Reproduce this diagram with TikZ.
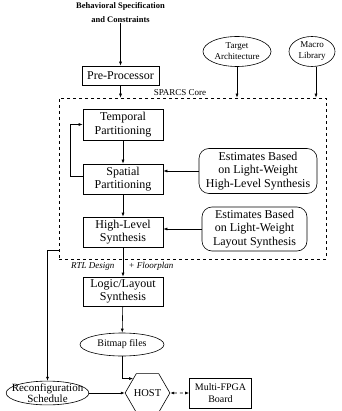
\documentclass[tikz,border=0pt]{standalone}
\usepackage{fontspec}
\setmainfont{Liberation Serif}
\usetikzlibrary{positioning, arrows.meta, shapes.geometric}

\begin{document}
\begin{tikzpicture}[x=1pt, y=-1pt, line width=0.6pt,
    every node/.style={font=\fontsize{12}{13.3}\selectfont, align=center},
    stagebox/.style={draw, minimum width=80pt, minimum height=30pt, inner sep=1pt},
    estbox/.style={draw, rounded corners=10pt, inner sep=1pt},
    oval/.style={draw, ellipse, inner sep=0pt},
    smalltext/.style={font=\fontsize{9}{11}\selectfont},
    arr/.style={-{Latex[length=4pt, width=3pt]}}]
        \useasboundingbox (0,0) rectangle (341,411);
        % Input
        \node[font=\fontsize{8.5}{14}\selectfont\bfseries, inner sep=0pt] (spec)
              at (120.5,13) {Behavioral Specification\\and Constraints};
        \node[stagebox, minimum width=77pt, minimum height=19pt] (pre)
              at (120.5,75.5) {Pre-Processor};
        % Libraries
        \node[oval, smalltext, minimum width=68pt, minimum height=30pt] (target)
              at (237,51.5) {Target\\Architecture};
        \node[oval, smalltext, minimum width=46pt, minimum height=30pt] (macro)
              at (312,51.5) {Macro\\Library};
        % Core
        \node[draw, dashed, minimum width=267pt, minimum height=161pt] (core)
              at (192.5,178.5) {};
        \node[smalltext, anchor=south, inner sep=1pt] (corename)
              at (180,97) {SPARCS Core};
        \node[stagebox, minimum height=31pt] (temporal)
              at (123,124.5) {Temporal\\Partitioning};
        \node[stagebox] (spatial)
              at (123,179) {Spatial\\Partitioning};
        \node[stagebox] (hls)
              at (123,232) {High-Level\\Synthesis};
        \node[estbox, minimum width=118pt, minimum height=45pt] (est1)
              at (258,171) {Estimates Based\\on Light-Weight\\High-Level Synthesis};
        \node[estbox, minimum width=105pt, minimum height=44pt] (est2)
              at (254.5,229) {Estimates Based\\on Light-Weight\\Layout Synthesis};
        % Back end
        \node[smalltext, font=\fontsize{9}{11}\selectfont\itshape, anchor=east] (rtl)
              at (118,266) {RTL Design};
        \node[smalltext, font=\fontsize{9}{11}\selectfont\itshape, anchor=west] (floor)
              at (125,266) {+ Floorplan};
        \node[stagebox, minimum height=29pt] (logic)
              at (123,291.5) {Logic/Layout\\Synthesis};
        \node[oval, font=\fontsize{10}{12}\selectfont, minimum width=84pt, minimum height=23pt] (bitmap)
              at (122,344.5) {Bitmap files};
        \node[oval, font=\fontsize{11}{11}\selectfont, inner xsep=-6.5pt, inner ysep=-1pt] (reconf)
              at (47.5,393) {Reconfiguration\\Schedule};
        \node[draw, regular polygon, regular polygon sides=6, minimum size=37pt,
              inner sep=0pt, font=\fontsize{10.5}{12}\selectfont] (host)
              at (147.5,393) {HOST};
        \node[draw, minimum width=62pt, minimum height=30pt, inner sep=1pt,
              font=\fontsize{10}{12}\selectfont] (board)
              at (220.5,393) {Multi-FPGA\\Board};
        % Connectors
        \draw[arr] (spec.south) -- (pre.north);
        \draw[arr] (pre) -- (pre |- core.north);
        \draw[arr] (target) -- (target |- core.north);
        \draw[arr] ([xshift=4pt]macro.south) -- ([xshift=4pt]macro.south |- core.north);
        \draw[arr] (temporal) -- (spatial);
        \draw[arr] ([yshift=3pt]spatial.west) -| ([xshift=-12pt]temporal.west) -- (temporal.west);
        \draw[arr] (est1.west) -- (est1.west -| spatial.east);
        \draw[arr] (spatial) -- (hls);
        \draw[arr] (est2.west) -- (est2.west -| hls.east);
        \draw[arr] (hls) -- (logic);
        \draw[arr] (logic) -- (bitmap);
        \draw[arr] (bitmap.south) |- (host.135);
        \draw[arr] ([yshift=9pt]core.south west) -| (reconf.north);
        \draw[arr] (reconf.east) -- (reconf.east -| host.west);
        \draw[{Latex[length=4pt, width=3pt]}-{Latex[length=4pt, width=3pt]}, dashed] (host) -- (board);
      \end{tikzpicture}
\end{document}
